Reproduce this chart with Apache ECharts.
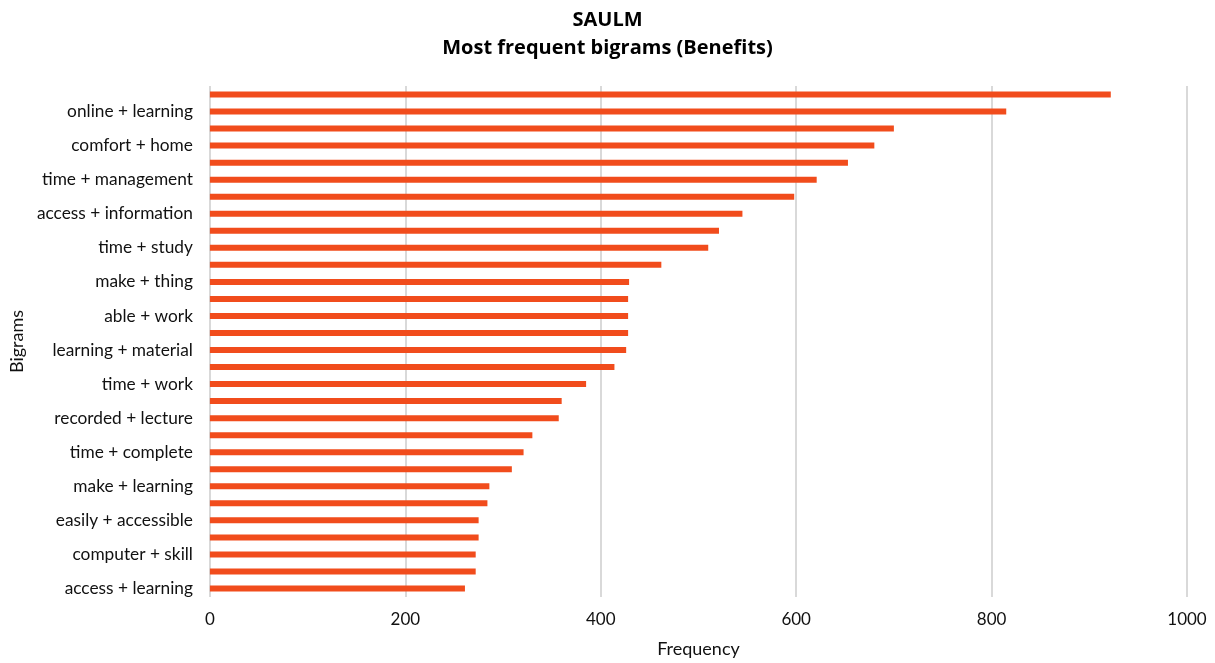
<!DOCTYPE html>
<html>
<head>
<meta charset="utf-8">
<script src="https://cdn.jsdelivr.net/npm/echarts@6/dist/echarts.min.js"></script>
<style>
html,body{margin:0;padding:0;background:#fff;}
#chart{width:1215px;height:663px;}
</style>
</head>
<body>
<div id="chart"></div>
<script>
// Categories listed top to bottom; only every other label is shown in the reference.
var categories = [
  "(unlabelled bigram 1)", "online + learning",
  "(unlabelled bigram 2)", "comfort + home",
  "(unlabelled bigram 3)", "time + management",
  "(unlabelled bigram 4)", "access + information",
  "(unlabelled bigram 5)", "time + study",
  "(unlabelled bigram 6)", "make + thing",
  "(unlabelled bigram 7)", "able + work",
  "(unlabelled bigram 8)", "learning + material",
  "(unlabelled bigram 9)", "time + work",
  "(unlabelled bigram 10)", "recorded + lecture",
  "(unlabelled bigram 11)", "time + complete",
  "(unlabelled bigram 12)", "make + learning",
  "(unlabelled bigram 13)", "easily + accessible",
  "(unlabelled bigram 14)", "computer + skill",
  "(unlabelled bigram 15)", "access + learning"
];
var frequency = [
  922, 815, 700, 680, 653, 621, 598, 545, 521, 510,
  462, 429, 428, 428, 428, 426, 414, 385, 360, 357,
  330, 321, 309, 286, 284, 275, 275, 272, 272, 261
];
var xTicks = [0, 200, 400, 600, 800, 1000];
var titleLines = ["SAULM", "Most frequent bigrams (Benefits)"];

var FONT = "Lato";
var chart = echarts.init(document.getElementById('chart'), null, {renderer: 'canvas'});
chart.setOption({
  animation: false,
  backgroundColor: '#ffffff',
  title: {
    text: titleLines.join('\n'),
    left: 'center',
    top: 1,
    padding: [5, 14, 5, 5],
    textStyle: {
      fontFamily: "Open Sans",
      fontWeight: 'bold',
      fontSize: 20,
      lineHeight: 28,
      color: '#000000'
    }
  },
  grid: {left: 207, right: 28, top: 86, bottom: 66, containLabel: false},
  xAxis: {
    type: 'value',
    min: xTicks[0],
    max: xTicks[xTicks.length - 1],
    interval: xTicks[1] - xTicks[0],
    name: 'Frequency',
    nameLocation: 'middle',
    nameGap: 43,
    nameTextStyle: {fontFamily: FONT, fontSize: 18, color: '#111'},
    axisLine: {show: false},
    axisTick: {show: false},
    axisLabel: {margin: 14, fontFamily: FONT, fontSize: 17, color: '#111',
      formatter: function (v) { return String(v); }},
    splitLine: {show: true, lineStyle: {color: '#d9d9d9', width: 2}}
  },
  yAxis: {
    type: 'category',
    data: categories,
    inverse: true,
    name: 'Bigrams',
    nameLocation: 'middle',
    nameGap: 180,
    nameTextStyle: {fontFamily: FONT, fontSize: 18, color: '#111'},
    axisLine: {show: false},
    axisTick: {show: false},
    splitLine: {show: false},
    axisLabel: {
      margin: 17,
      fontFamily: FONT,
      fontSize: 17.3,
      color: '#111',
      interval: function (idx) { return idx % 2 === 1; }
    }
  },
  series: [{
    type: 'bar',
    data: frequency,
    barWidth: 6,
    itemStyle: {color: '#F14C1C'}
  }]
});
</script>
</body>
</html>
